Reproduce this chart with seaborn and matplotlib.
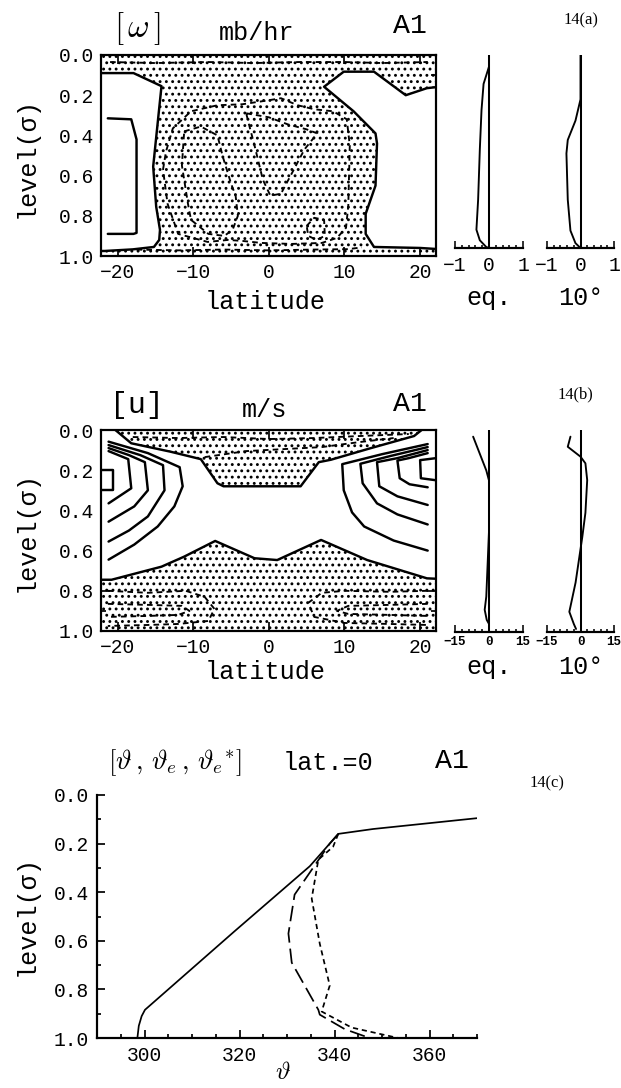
import matplotlib
matplotlib.use("Agg")
import matplotlib.pyplot as plt
from matplotlib.ticker import MultipleLocator, FixedLocator, FuncFormatter
import seaborn as sns

# ------------------------------------------------------------------
# Experiment A1 : zonal-mean fields, latitude (deg) vs level (sigma)
# ------------------------------------------------------------------
LAT_LIM = (-22.2, 22.1)

# ---- [omega] (mb/hr) isolines ----
# zero isoline, southern descent area
om_zero_s_lat = [-22.2, -17.9, -14.2, -14.6, -15.3, -14.9, -14.4, -14.5, -15.2, -18.0, -21.7, -22.2]
om_zero_s_sig = [0.09, 0.09, 0.155, 0.30, 0.555, 0.755, 0.87, 0.92, 0.955, 0.967, 0.975, 0.975]
# positive isoline inside the southern descent area
om_pos_s_lat = [-21.3, -18.2, -17.5, -17.5, -17.9, -21.3]
om_pos_s_sig = [0.315, 0.32, 0.42, 0.885, 0.89, 0.89]
# zero isoline, northern descent area
om_zero_n_lat = [22.1, 20.9, 18.1, 13.9, 9.9, 7.3, 11.2, 14.1, 14.3, 14.1, 12.8, 12.8, 13.9, 20.0, 22.1]
om_zero_n_sig = [0.16, 0.165, 0.20, 0.083, 0.083, 0.158, 0.28, 0.39, 0.44, 0.65, 0.79, 0.89, 0.955, 0.96, 0.965]
# negative isolines (ascent)
om_neg_top_lat = [-21.0, -15.0, -8.0, -2.0, 4.0, 10.0, 15.0, 21.0]
om_neg_top_sig = [0.035, 0.04, 0.035, 0.04, 0.035, 0.035, 0.04, 0.035]
om_neg_bot_lat = [-17.5, -12.0, -6.0, 0.0, 6.0, 10.5, 12.3]
om_neg_bot_sig = [0.968, 0.972, 0.968, 0.972, 0.968, 0.966, 0.957]
om_neg_mid_lat = [-14.0, -13.6, -12.7, -10.3, -6.8, -3.5, 0.0, 1.6, 3.8, 6.0, 8.5, 10.3, 10.7, 10.5,
                  10.2, 9.0, 7.0, 3.0, -1.0, -3.5, -5.4, -8.1, -12.0, -13.4, -14.0]
om_neg_mid_sig = [0.57, 0.48, 0.365, 0.28, 0.25, 0.245, 0.225, 0.215, 0.25, 0.27, 0.28, 0.32, 0.45, 0.75,
                  0.86, 0.91, 0.935, 0.94, 0.935, 0.925, 0.92, 0.93, 0.89, 0.74, 0.57]
om_neg_gap_lat = [-3.0, 0.0, 2.5, 5.0, 6.4, 4.7, 3.3, 1.6, 0.2, -0.8, -1.9, -2.6, -3.0]
om_neg_gap_sig = [0.29, 0.31, 0.345, 0.37, 0.39, 0.47, 0.57, 0.69, 0.70, 0.62, 0.45, 0.35, 0.29]
om_neg_core_w_lat = [-11.2, -9.0, -6.8, -6.1, -5.0, -4.4, -4.1, -4.8, -5.9, -8.0, -10.3, -10.7, -11.5, -11.2]
om_neg_core_w_sig = [0.38, 0.356, 0.40, 0.505, 0.64, 0.70, 0.80, 0.87, 0.90, 0.89, 0.82, 0.74, 0.55, 0.38]
om_neg_core_e_lat = [5.0, 6.0, 7.3, 7.4, 6.3, 5.2, 5.0]
om_neg_core_e_sig = [0.85, 0.81, 0.82, 0.90, 0.92, 0.90, 0.85]
# vertical profiles at the equator and at 10N
om_eq_val = [0.0, 0.0, -0.16, -0.22, -0.27, -0.32, -0.37, -0.27, -0.08, 0.0]
om_eq_sig = [0.0, 0.06, 0.15, 0.285, 0.49, 0.75, 0.905, 0.96, 0.995, 1.0]
om_10_val = [0.0, 0.0, -0.15, -0.38, -0.42, -0.38, -0.30, -0.15, 0.0]
om_10_sig = [0.0, 0.23, 0.34, 0.44, 0.51, 0.75, 0.91, 0.975, 1.0]

# ---- [u] (m/s) isolines ----
u_zero_top_lat = [-20.3, -18.2, -13.0, -9.0, -6.8, -6.0, 4.2, 6.6, 8.2, 13.5, 19.2, 20.2]
u_zero_top_sig = [0.0, 0.066, 0.108, 0.145, 0.265, 0.28, 0.28, 0.16, 0.148, 0.09, 0.03, 0.0]
u_zero_bot_lat = [-22.2, -20.8, -14.2, -11.2, -7.1, -1.9, 1.1, 6.9, 13.0, 20.9, 22.1]
u_zero_bot_sig = [0.745, 0.745, 0.68, 0.63, 0.552, 0.638, 0.647, 0.547, 0.647, 0.738, 0.74]
# westerly isolines, southern jet
u_w1_lat = [-21.2, -16.0, -11.8, -11.4, -12.5, -14.7, -17.8, -21.2]
u_w1_sig = [0.058, 0.115, 0.185, 0.28, 0.38, 0.48, 0.57, 0.645]
u_w2_lat = [-21.2, -17.0, -14.0, -13.8, -16.0, -18.5, -21.2]
u_w2_sig = [0.075, 0.125, 0.175, 0.30, 0.43, 0.50, 0.555]
u_w3_lat = [-21.2, -18.5, -16.4, -16.0, -17.8, -21.2]
u_w3_sig = [0.09, 0.125, 0.16, 0.30, 0.38, 0.456]
u_w4_lat = [-21.2, -18.6, -18.2, -21.2]
u_w4_sig = [0.105, 0.145, 0.29, 0.365]
u_w5_lat = [-22.2, -20.6, -20.6, -22.2]
u_w5_sig = [0.20, 0.20, 0.30, 0.30]
# westerly isolines, northern jet
u_e1_lat = [21.0, 15.0, 9.7, 9.9, 11.0, 12.6, 16.5, 21.0]
u_e1_sig = [0.07, 0.12, 0.17, 0.30, 0.41, 0.48, 0.55, 0.60]
u_e2_lat = [21.0, 16.0, 12.1, 12.4, 14.3, 17.0, 21.0]
u_e2_sig = [0.085, 0.13, 0.168, 0.265, 0.365, 0.42, 0.47]
u_e3_lat = [21.0, 17.0, 14.3, 14.6, 17.0, 21.0]
u_e3_sig = [0.10, 0.14, 0.16, 0.28, 0.33, 0.373]
u_e4_lat = [21.0, 18.5, 17.0, 17.3, 18.6, 21.0]
u_e4_sig = [0.115, 0.14, 0.152, 0.24, 0.27, 0.285]
u_e5_lat = [22.1, 20.0, 20.1, 22.1]
u_e5_sig = [0.14, 0.15, 0.24, 0.25]
# easterly isolines
u_east_t1_lat = [-18.0, -12.0, -6.0, 0.0, 6.0, 12.0, 18.5]
u_east_t1_sig = [0.035, 0.04, 0.035, 0.045, 0.04, 0.03, 0.02]
u_east_t2_lat = [-8.5, -3.0, 2.0, 7.0, 12.0, 16.5]
u_east_t2_sig = [0.135, 0.105, 0.095, 0.085, 0.06, 0.04]
u_east_w1_lat = [-21.3, -16.0, -11.0, -8.5, -7.2, -8.0, -12.0, -16.0, -21.3]
u_east_w1_sig = [0.80, 0.81, 0.80, 0.83, 0.89, 0.95, 0.965, 0.97, 0.975]
u_east_w2_lat = [-21.3, -16.0, -11.5, -10.5, -12.0, -16.0, -21.3]
u_east_w2_sig = [0.865, 0.87, 0.875, 0.90, 0.92, 0.925, 0.93]
u_east_e1_lat = [21.0, 16.0, 10.0, 7.0, 5.2, 6.0, 10.0, 16.0, 21.0]
u_east_e1_sig = [0.80, 0.805, 0.80, 0.81, 0.86, 0.93, 0.96, 0.965, 0.97]
u_east_e2_lat = [21.0, 16.0, 10.5, 9.0, 10.5, 16.0, 21.0]
u_east_e2_sig = [0.865, 0.87, 0.875, 0.90, 0.915, 0.92, 0.925]
# vertical profiles at the equator and at 10N
u_eq_val = [-7.0, -1.2, 0.0, 0.0, -1.2, -1.9, -1.0, 0.0, 0.0]
u_eq_sig = [0.033, 0.20, 0.25, 0.50, 0.825, 0.89, 0.94, 0.96, 1.0]
u_10_val = [-4.5, -5.7, 0.0, 2.2, 3.0, 2.2, 0.8, -2.2, -5.0, -3.0, -2.0]
u_10_sig = [0.033, 0.083, 0.132, 0.165, 0.248, 0.41, 0.53, 0.755, 0.90, 0.96, 0.985]

# ---- potential temperatures at the equator (K) ----
theta_val = [298.5, 298.8, 299.4, 300.1, 319.0, 334.8, 340.8, 348.1, 370.2]
theta_sig = [1.0, 0.95, 0.91, 0.884, 0.56, 0.293, 0.16, 0.14, 0.095]
theta_e_val = [340.8, 339.0, 331.6, 330.3, 331.0, 336.6, 336.9, 342.2, 347.4]
theta_e_sig = [0.16, 0.20, 0.41, 0.57, 0.69, 0.884, 0.904, 0.964, 1.0]
theta_es_val = [340.8, 339.7, 336.6, 335.9, 335.2, 336.9, 339.0, 337.3, 343.6, 353.4]
theta_es_sig = [0.16, 0.213, 0.266, 0.346, 0.426, 0.612, 0.784, 0.891, 0.957, 1.0]

# ------------------------------------------------------------------
DPI = 113
W, H = 621, 1088

sns.set_theme(style="ticks")
plt.rcParams.update({
    "font.family": ["Liberation Mono", "DejaVu Sans"],
    "mathtext.fontset": "cm",
    "axes.unicode_minus": True,
    "axes.edgecolor": "black",
    "axes.labelcolor": "black",
    "text.color": "black",
    "xtick.color": "black",
    "ytick.color": "black",
    "axes.linewidth": 1.4,
    "hatch.linewidth": 1.05,
    "hatch.color": "black",
})


def pt(px):
    return px * 72.0 / DPI


def add_ax(x0, y0, x1, y1):
    return fig.add_axes([x0 / W, 1 - y1 / H, (x1 - x0) / W, (y1 - y0) / H])


def trace(ax, xs, ys, lw=1.4, ls="-", z=3):
    sns.lineplot(x=xs, y=ys, sort=False, estimator=None, ax=ax, color="black",
                 linewidth=lw, linestyle=ls, legend=False, zorder=z)


def ftext(x, y, s, size, **kw):
    fig.text(x / W, 1 - y / H, s, fontsize=size, ha=kw.pop("ha", "center"),
             va=kw.pop("va", "center"), **kw)


SOLID = 1.55
DASH_LW = 1.2
DASH = (0, (3.0, 2.2))
TICK_SIZE = 12.5
LABEL_SIZE = 16
STIPPLE = "..."

fig = plt.figure(figsize=(W / DPI, H / DPI), dpi=DPI)
fig.patch.set_facecolor("white")


def section_axes(ax):
    ax.set_xlim(*LAT_LIM)
    ax.set_ylim(1, 0)
    ax.xaxis.set_major_locator(FixedLocator([-20, -10, 0, 10, 20]))
    ax.yaxis.set_major_locator(MultipleLocator(0.2))
    ax.yaxis.set_minor_locator(MultipleLocator(0.1))
    ax.yaxis.set_major_formatter(FuncFormatter(lambda v, p: f"{v:.1f}"))
    ax.tick_params(which="both", direction="in", top=True, right=True, width=1.1,
                   labelsize=TICK_SIZE)
    ax.tick_params(which="major", length=pt(9), pad=pt(7))
    ax.tick_params(which="minor", length=pt(5))
    ax.set_xlabel("latitude", fontsize=LABEL_SIZE)
    ax.set_ylabel("level(σ)", fontsize=LABEL_SIZE)
    ax.xaxis.label.set_va("center")
    ax.yaxis.label.set_va("center")
    for s in ax.spines.values():
        s.set_zorder(5)


def profile_axes(ax, lim, minor, labels, label, lsize, label_y):
    ax.axvline(0, color="black", lw=1.3, zorder=2)
    ax.set_xlim(-lim, lim)
    ax.set_ylim(1, 0)
    for s in ("left", "right", "top"):
        ax.spines[s].set_visible(False)
    ax.set_yticks([])
    ax.xaxis.set_major_locator(FixedLocator([-lim, 0, lim]))
    ax.xaxis.set_major_formatter(FuncFormatter(lambda v, p: labels[p]))
    ax.xaxis.set_minor_locator(MultipleLocator(minor))
    ax.tick_params(axis="x", which="both", direction="in", width=1.0)
    ax.tick_params(axis="x", which="major", length=pt(7), labelsize=lsize, pad=pt(8))
    ax.tick_params(axis="x", which="minor", length=pt(3.5))
    ax.set_xlabel(label, fontsize=LABEL_SIZE)
    ax.xaxis.label.set_va("center")
    ax.xaxis.set_label_coords(0.5, label_y)
    ax.patch.set_alpha(0)


# ============ 14(a)  [omega] ============
axa = add_ax(101, 55, 436, 256)
axa.fill_between(list(LAT_LIM), 0, 1, hatch=STIPPLE, facecolor="none",
                 edgecolor="black", linewidth=0, zorder=0.5)
axa.fill(om_zero_s_lat, om_zero_s_sig, facecolor="white", edgecolor="none", zorder=1)
axa.fill(om_zero_n_lat, om_zero_n_sig, facecolor="white", edgecolor="none", zorder=1)
for la, si in [(om_zero_s_lat, om_zero_s_sig), (om_pos_s_lat, om_pos_s_sig),
               (om_zero_n_lat, om_zero_n_sig)]:
    trace(axa, la, si, lw=SOLID)
for la, si in [(om_neg_top_lat, om_neg_top_sig), (om_neg_bot_lat, om_neg_bot_sig),
               (om_neg_mid_lat, om_neg_mid_sig), (om_neg_gap_lat, om_neg_gap_sig),
               (om_neg_core_w_lat, om_neg_core_w_sig), (om_neg_core_e_lat, om_neg_core_e_sig)]:
    trace(axa, la, si, lw=DASH_LW, ls=DASH)
section_axes(axa)
axa.xaxis.set_label_coords((265 - 101) / 335, (256 - 302) / 201)
axa.yaxis.set_label_coords((27 - 101) / 335, (256 - 157) / 201)

pa_eq = add_ax(455, 55, 523, 248)
trace(pa_eq, om_eq_val, om_eq_sig, lw=1.2)
profile_axes(pa_eq, 1, 0.2, ["\u22121", "0", "1"], "eq.", TICK_SIZE, (248 - 298) / 193)
pa_10 = add_ax(547, 55, 614, 248)
trace(pa_10, om_10_val, om_10_sig, lw=1.2)
profile_axes(pa_10, 1, 0.2, ["\u22121", "0", "1"], "10°", TICK_SIZE, (248 - 298) / 193)

ftext(137, 29, r"$[\,\omega\,]$", 21)
ftext(257, 33, "mb/hr", 16)
ftext(410, 26, "A1", 18)
ftext(581, 20, "14(a)", 10.5, family="Liberation Serif")

# ============ 14(b)  [u] ============
axb = add_ax(101, 430, 436, 631)
axb.fill_between(list(LAT_LIM), 0, 1, hatch=STIPPLE, facecolor="none",
                 edgecolor="black", linewidth=0, zorder=0.5)
mid_lat = [LAT_LIM[0]] + u_zero_top_lat + [LAT_LIM[1]] + u_zero_bot_lat[::-1]
mid_sig = [0.0] + u_zero_top_sig + [0.0] + u_zero_bot_sig[::-1]
axb.fill(mid_lat, mid_sig, facecolor="white", edgecolor="none", zorder=1)
for la, si in [(u_zero_top_lat, u_zero_top_sig), (u_zero_bot_lat, u_zero_bot_sig),
               (u_w1_lat, u_w1_sig), (u_w2_lat, u_w2_sig), (u_w3_lat, u_w3_sig),
               (u_w4_lat, u_w4_sig), (u_w5_lat, u_w5_sig),
               (u_e1_lat, u_e1_sig), (u_e2_lat, u_e2_sig), (u_e3_lat, u_e3_sig),
               (u_e4_lat, u_e4_sig), (u_e5_lat, u_e5_sig)]:
    trace(axb, la, si, lw=SOLID)
for la, si in [(u_east_t1_lat, u_east_t1_sig), (u_east_t2_lat, u_east_t2_sig),
               (u_east_w1_lat, u_east_w1_sig), (u_east_w2_lat, u_east_w2_sig),
               (u_east_e1_lat, u_east_e1_sig), (u_east_e2_lat, u_east_e2_sig)]:
    trace(axb, la, si, lw=DASH_LW, ls=DASH)
section_axes(axb)
axb.xaxis.set_label_coords((265 - 101) / 335, (631 - 672) / 201)
axb.yaxis.set_label_coords((27 - 101) / 335, (631 - 532) / 201)

pb_eq = add_ax(455, 430, 523, 632)
trace(pb_eq, u_eq_val, u_eq_sig, lw=1.2)
profile_axes(pb_eq, 15, 3, ["\u221215", "0", "15"], "eq.", 8, (632 - 667) / 202)
pb_10 = add_ax(547, 430, 614, 632)
trace(pb_10, u_10_val, u_10_sig, lw=1.2)
profile_axes(pb_10, 15, 3, ["\u221215", "0", "15"], "10°", 8, (632 - 667) / 202)
for a in (pb_eq, pb_10):
    a.tick_params(axis="x", which="major", pad=pt(4))
    for t in a.get_xticklabels():
        t.set_fontweight("bold")

ftext(137, 405, "[u]", 19)
ftext(265, 410, "m/s", 16)
ftext(410, 404, "A1", 18)
ftext(575, 394, "14(b)", 10.5, family="Liberation Serif")

# ============ 14(c)  theta profiles ============
axc = add_ax(97, 795, 477, 1038)
trace(axc, theta_val, theta_sig, lw=1.1)
trace(axc, theta_e_val, theta_e_sig, lw=1.1, ls=(0, (9, 3.5)))
trace(axc, theta_es_val, theta_es_sig, lw=1.1, ls=(0, (3, 2.2)))
axc.set_xlim(290, 370)
axc.set_ylim(1, 0)
axc.spines["top"].set_visible(False)
axc.spines["right"].set_visible(False)
axc.xaxis.set_major_locator(FixedLocator([300, 320, 340, 360]))
axc.xaxis.set_minor_locator(MultipleLocator(5))
axc.yaxis.set_major_locator(MultipleLocator(0.2))
axc.yaxis.set_minor_locator(MultipleLocator(0.1))
axc.yaxis.set_major_formatter(FuncFormatter(lambda v, p: f"{v:.1f}"))
axc.tick_params(which="both", direction="in", width=1.1, labelsize=TICK_SIZE)
axc.tick_params(which="major", length=pt(8), pad=pt(8))
axc.tick_params(which="minor", length=pt(4))
axc.set_xlabel(r"$\vartheta$", fontsize=LABEL_SIZE)
axc.set_ylabel("level(σ)", fontsize=LABEL_SIZE)
axc.xaxis.label.set_va("center")
axc.yaxis.label.set_va("center")
axc.xaxis.set_label_coords((283 - 97) / 380, (1038 - 1072) / 243)
axc.yaxis.set_label_coords((27 - 97) / 380, (1038 - 915) / 243)

ftext(175, 763, r"$[\vartheta\,,\,\vartheta_{e}\,,\,\vartheta_{e}{}^{*}]$", 17)
ftext(328, 763, "lat.=0", 16)
ftext(452, 761, "A1", 18)
ftext(547, 783, "14(c)", 10.5, family="Liberation Serif")

fig.savefig("out.png", dpi=DPI, facecolor="white")
